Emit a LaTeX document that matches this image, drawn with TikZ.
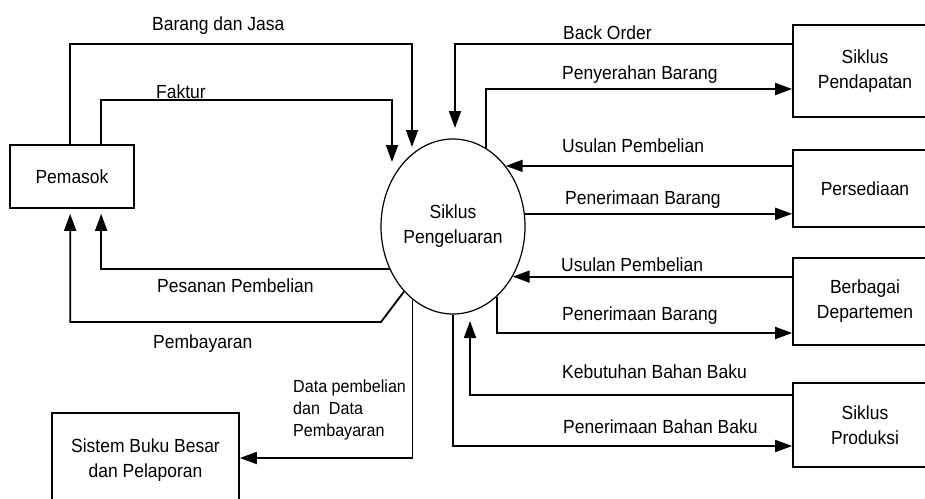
\documentclass[tikz,border=0pt]{standalone}
\usepackage{fontspec}
\setmainfont{Liberation Sans}[FakeStretch=0.92]
\usetikzlibrary{arrows.meta,shapes.geometric}
\begin{document}
\begin{tikzpicture}[x=1pt,y=-1pt,
  every node/.style={font=\fontsize{19}{25}\selectfont},
  box/.style={draw, line width=1.7pt, inner sep=0pt, align=center},
  flow/.style={line width=1.8pt, -{Triangle[length=17pt,width=12pt]}},
  lbl/.style={anchor=base west, inner sep=0pt}]
\useasboundingbox (0,0) rectangle (925,498);
\clip (0,0) rectangle (925,498);
% nodes
\node[box, minimum width=124pt, minimum height=63pt] (pem) at (72,176.5) {Pemasok};
\node[ellipse, draw, line width=1.2pt, minimum width=144pt, minimum height=175pt, inner sep=0pt, align=center] (sp) at (453,226.5) {Siklus\\Pengeluaran};
\node[box, minimum width=144pt, minimum height=92pt] (pend) at (865,71) {Siklus\\Pendapatan};
\node[box, minimum width=144pt, minimum height=77pt] (pers) at (865,188.5) {Persediaan};
\node[box, minimum width=144pt, minimum height=87pt] (dept) at (865,301.5) {Berbagai\\Departemen};
\node[box, minimum width=144pt, minimum height=84pt] (prod) at (865,425) {Siklus\\Produksi};
\node[box, minimum width=187pt, minimum height=94pt] (sbb) at (145.5,460) {Sistem Buku Besar\\dan Pelaporan};
% free ends
\coordinate (bjTip) at (412,147);
\coordinate (fkTip) at (392,162);
\coordinate (boTip) at (455,128);
\coordinate (kbTip) at (470,321);
\coordinate (pbBend) at (381,322);
% connectors
\draw[flow] ([xshift=61pt]pem.north west) -- ++(0,-100) -| (bjTip);
\draw[flow] ([xshift=92pt]pem.north west) -- ++(0,-44) -| (fkTip);
\draw[flow] ([yshift=-20pt]pend.north west) -| (boTip);
\draw[flow] (sp.67) |- ([yshift=-18pt]pend.west);
\draw[flow] (pers.west |- sp.49) -- (sp.49);
\draw[flow] (sp.10.75) -- (sp.10.75 -| pers.west);
\draw[flow] (dept.west |- sp.-40.7) -- (sp.-40.7);
\draw[flow] (sp.-58.6) |- ([yshift=-31.5pt]dept.west);
\draw[flow] ([yshift=30pt]prod.west) -| (kbTip);
\draw[flow] (sp.south) |- ([yshift=-21pt]prod.west);
\draw[flow] (sp.-119.7) |- ([yshift=2pt]sbb.east);
\draw[flow] (sp.214.8) -| ([xshift=92pt,yshift=-5pt]pem.south west);
\draw[flow] (sp.233) -- (pbBend) -| ([xshift=61pt,yshift=-5pt]pem.south west);
% labels
\node[lbl] (l1) at (152,30) {Barang dan Jasa};
\node[lbl] (l2) at (156,98) {Faktur};
\node[lbl] (l3) at (563,39) {Back Order};
\node[lbl] (l4) at (562,79) {Penyerahan Barang};
\node[lbl] (l5) at (562,152) {Usulan Pembelian};
\node[lbl] (l6) at (565,204) {Penerimaan Barang};
\node[lbl] (l7) at (561,271) {Usulan Pembelian};
\node[lbl] (l8) at (562,320) {Penerimaan Barang};
\node[lbl] (l9) at (562,378) {Kebutuhan Bahan Baku};
\node[lbl] (l10) at (563,433) {Penerimaan Bahan Baku};
\node[lbl] (l11) at (157,292) {Pesanan Pembelian};
\node[lbl] (l12) at (153,348) {Pembayaran};
\node[anchor=north west, inner sep=0pt, align=left, font=\fontsize{17.5}{22}\selectfont] (l13) at (293,380) {Data pembelian\\dan\ \ Data\\Pembayaran};
\end{tikzpicture}
\end{document}
